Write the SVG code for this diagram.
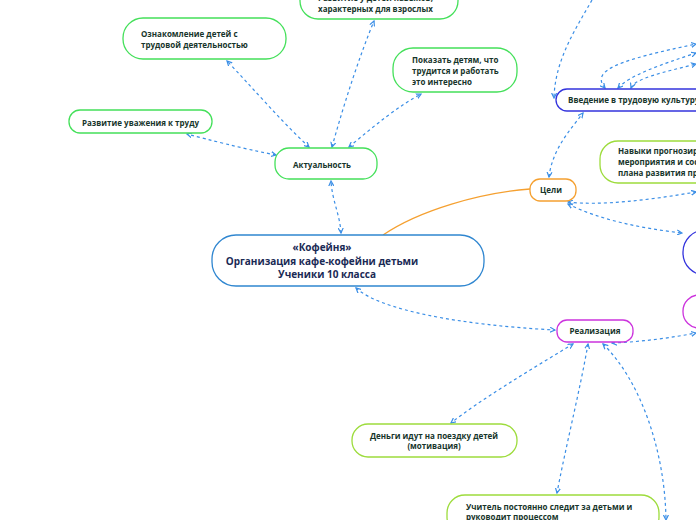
<svg xmlns="http://www.w3.org/2000/svg" width="696" height="520" viewBox="0 0 696 520">
<defs>
<marker id="ar" markerUnits="userSpaceOnUse" markerWidth="6" markerHeight="6" refX="5" refY="3" orient="auto-start-reverse">
<path d="M0,0.5 L5,3 L0,5.5" fill="none" stroke="#3a8ee6" stroke-width="1.2"/>
</marker>
</defs>
<style>
.n{fill:#fff;stroke-width:1.3}
.g{stroke:#44e05a}
.y{stroke:#9ddc3c}
.b{stroke:#3333dd}
.m{stroke:#cc33dd}
.o{stroke:#f5a030}
.c{stroke:#2f86d0}
text{font-family:"Open Sans","DejaVu Sans",sans-serif;font-weight:bold;font-size:8px;fill:#17352b}
.mid{text-anchor:middle}
.big{font-size:10px;fill:#1a2a55}
.d{fill:none;stroke:#3a8ee6;stroke-width:1.2;stroke-dasharray:3 3;marker-start:url(#ar);marker-end:url(#ar)}
.d1{fill:none;stroke:#3a8ee6;stroke-width:1.2;stroke-dasharray:3 3;marker-end:url(#ar)}
</style>
<g id="connectors">
<path class="d" d="M341,233 C340,215 332,200 331,181"/>
<path class="d" d="M276,155 C240,148 210,140 187,134"/>
<path class="d" d="M309,147 C280,120 250,85 227,61"/>
<path class="d" d="M332,147 C345,100 360,55 374,21"/>
<path class="d" d="M349,147 C375,125 400,105 421,94"/>
<path class="d" d="M356,288 C380,310 460,325 555,330"/>
<path d="M383,235 C420,210 480,193 530,189" fill="none" stroke="#f5a030" stroke-width="1.3"/>
<path class="d" d="M549,177 C552,150 570,130 583,113"/>
<path class="d1" d="M592,0 C575,30 555,60 554,98"/>
<path class="d" d="M568,202 C600,206 650,200 696,192"/>
<path class="d" d="M568,204 C600,220 640,228 682,233"/>
<path class="d" d="M612,343 C640,342 670,338 696,333"/>
<path class="d" d="M573,344 C530,370 480,400 451,423"/>
<path class="d" d="M588,344 C580,390 565,450 557,493"/>
<path class="d" d="M603,344 C640,380 665,450 666,520"/>
<path class="d" d="M605,88 C590,70 620,60 696,44"/>
<path class="d" d="M618,88 C630,75 660,65 696,53"/>
<path class="d" d="M631,88 C635,78 665,72 696,64"/>
</g>
<g id="central">
<rect class="n c" x="212" y="235" width="272" height="51" rx="24"/>
<text class="big mid" x="322" y="251">«Кофейня»</text>
<text class="big mid" x="322" y="265">Организация кафе-кофейни детьми</text>
<text class="big mid" x="327" y="278">Ученики 10 класса</text>
</g>
<g id="aktualnost">
<rect class="n g" x="275" y="148" width="102" height="31" rx="14"/>
<text class="mid" x="322" y="168">Актуальность</text>
</g>
<g id="uvazhenie">
<rect class="n g" x="69" y="110" width="143" height="23" rx="11"/>
<text x="82" y="126">Развитие уважения к труду</text>
</g>
<g id="oznakomlenie">
<rect class="n g" x="123" y="18" width="163" height="41" rx="20"/>
<text x="141" y="37">Ознакомление детей с</text>
<text x="141" y="48">трудовой деятельностью</text>
</g>
<g id="navyki-vzroslyh">
<rect class="n g" x="300" y="-20" width="158" height="39" rx="18"/>
<text x="318" y="1">Развитие у детей навыков,</text>
<text x="318" y="12">характерных для взрослых</text>
</g>
<g id="pokazat">
<rect class="n g" x="393" y="48" width="124" height="44" rx="20"/>
<text x="412" y="63">Показать детям, что</text>
<text x="412" y="74">трудится и работать</text>
<text x="412" y="85">это интересно</text>
</g>
<g id="vvedenie">
<rect class="n b" x="556" y="89" width="160" height="22" rx="11"/>
<text x="568" y="103">Введение в трудовую культуру</text>
</g>
<g id="celi">
<rect class="n o" x="530" y="179" width="46" height="22" rx="10"/>
<text class="mid" x="551" y="193">Цели</text>
</g>
<g id="navyki-prognoz">
<rect class="n y" x="600" y="141" width="130" height="42" rx="18"/>
<text x="618" y="154">Навыки прогнозир</text>
<text x="618" y="165">мероприятия и сос</text>
<text x="618" y="176">плана развития пр</text>
</g>
<g id="blue-node">
<rect class="n b" x="683" y="230" width="60" height="45" rx="22"/>
</g>
<g id="magenta-node">
<rect class="n m" x="683" y="295" width="60" height="33" rx="16"/>
</g>
<g id="realizaciya">
<rect class="n m" x="557" y="320" width="76" height="22" rx="10"/>
<text class="mid" x="595" y="334">Реализация</text>
</g>
<g id="dengi">
<rect class="n y" x="352" y="424" width="165" height="33" rx="16"/>
<text class="mid" x="434" y="439">Деньги идут на поездку детей</text>
<text class="mid" x="434" y="449">(мотивация)</text>
</g>
<g id="uchitel">
<rect class="n y" x="447" y="495" width="212" height="40" rx="18"/>
<text x="466" y="510">Учитель постоянно следит за детьми и</text>
<text x="466" y="520">руководит процессом</text>
</g>
</svg>
